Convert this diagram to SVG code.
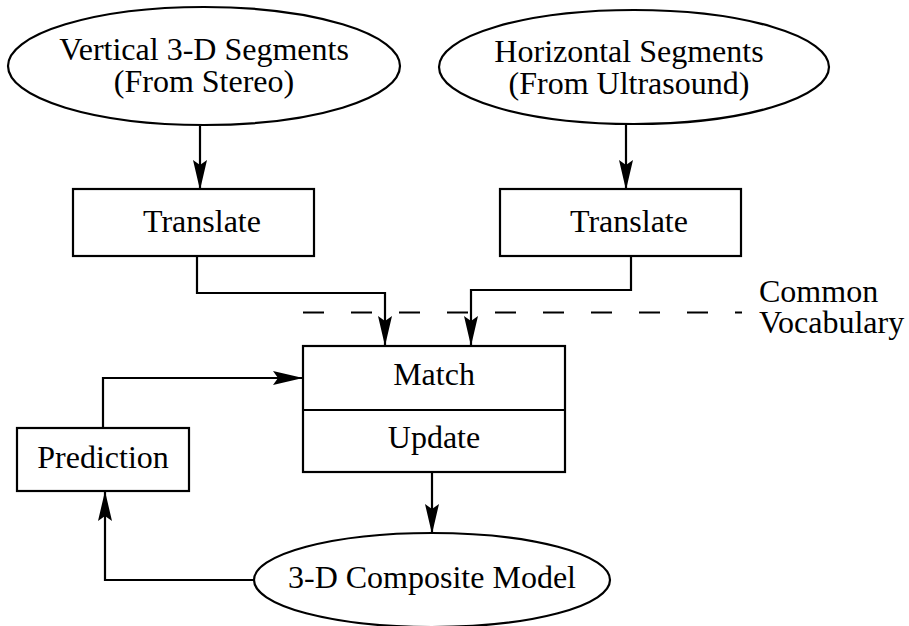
<svg xmlns="http://www.w3.org/2000/svg" width="909" height="626" viewBox="0 0 909 626">
<style>
.s{fill:#fff;stroke:#000;stroke-width:2.2}
.t{font-family:"Liberation Serif","Times New Roman",serif;font-size:32px;fill:#000}
.c{fill:none;stroke:#000;stroke-width:2.2}
.d{fill:none;stroke:#000;stroke-width:2.2;stroke-dasharray:21 27}
</style>
<defs>
<marker id="a" viewBox="0 0 30 14" refX="29" refY="7" markerWidth="30" markerHeight="14" markerUnits="userSpaceOnUse" orient="auto">
<path d="M0,0 L30,7 L0,14 L5,7 Z" fill="#000"/>
</marker>
</defs>
<g id="n1"><ellipse class="s" cx="204" cy="66" rx="196" ry="59"/><text class="t" text-anchor="middle" x="204" y="60">Vertical 3-D Segments</text><text class="t" text-anchor="middle" x="204" y="92">(From Stereo)</text></g>
<g id="n2"><ellipse class="s" cx="634" cy="67" rx="195" ry="57"/><text class="t" text-anchor="middle" x="629" y="62">Horizontal Segments</text><text class="t" text-anchor="middle" x="629" y="94">(From Ultrasound)</text></g>
<g id="n3"><rect class="s" x="73" y="189" width="241" height="67"/><text class="t" text-anchor="middle" x="202" y="232">Translate</text></g>
<g id="n4"><rect class="s" x="500" y="189" width="241" height="67"/><text class="t" text-anchor="middle" x="629" y="232">Translate</text></g>
<g id="n5"><rect class="s" x="303" y="346" width="262" height="126"/><line class="c" x1="303" y1="410" x2="565" y2="410"/><text class="t" text-anchor="middle" x="434" y="385">Match</text><text class="t" text-anchor="middle" x="434" y="448">Update</text></g>
<g id="n6"><rect class="s" x="17" y="428" width="172" height="63"/><text class="t" text-anchor="middle" x="103" y="468">Prediction</text></g>
<g id="n7"><ellipse class="s" cx="432" cy="580" rx="178" ry="47"/><text class="t" text-anchor="middle" x="432" y="588">3-D Composite Model</text></g>
<g id="label"><text class="t" x="759" y="302">Common</text><text class="t" x="759" y="333">Vocabulary</text></g>
<g id="connectors">
<line class="d" x1="303" y1="312.5" x2="742" y2="312.5"/>
<line class="c" x1="200" y1="126" x2="200" y2="189" marker-end="url(#a)"/>
<line class="c" x1="626" y1="125" x2="626" y2="189" marker-end="url(#a)"/>
<polyline class="c" points="197,257 197,293 385,293 385,345" marker-end="url(#a)"/>
<polyline class="c" points="631,257 631,290 471,290 471,345" marker-end="url(#a)"/>
<line class="c" x1="432" y1="473" x2="432" y2="533" marker-end="url(#a)"/>
<polyline class="c" points="254,580 105,580 105,492" marker-end="url(#a)"/>
<polyline class="c" points="103,428 103,378 302,378" marker-end="url(#a)"/>
</g>
</svg>
